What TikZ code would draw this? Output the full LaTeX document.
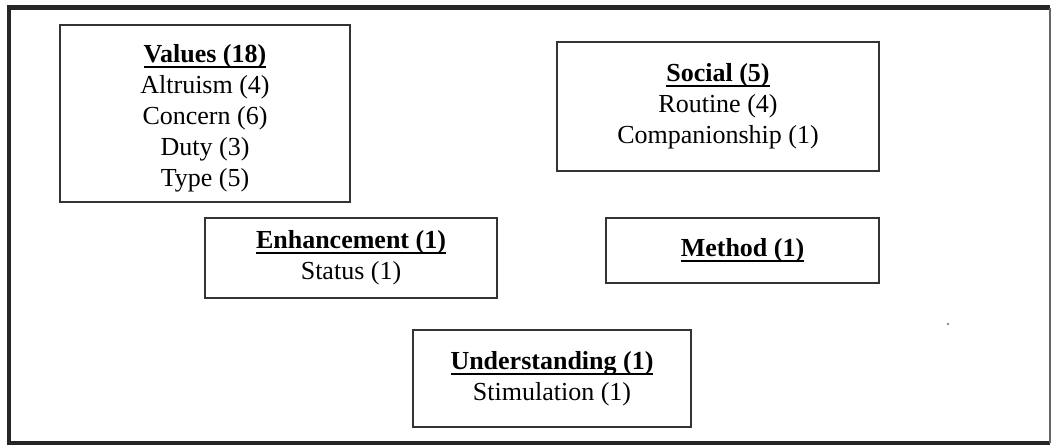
\documentclass[tikz,border=0pt]{standalone}
\usepackage{fontspec}
\setmainfont{Liberation Serif}
\newcommand{\cathead}[1]{\setbox0\hbox{\textbf{#1}}\leavevmode\rlap{\rule[-5.5pt]{\wd0}{1.8pt}}\box0}
\begin{document}
\begin{tikzpicture}[x=1pt,y=-1pt,
    catbox/.style={draw=black!80,line width=1.6pt,inner sep=0pt,align=center,
      font=\fontsize{26}{31}\selectfont}]
\useasboundingbox (0,0) rectangle (1055,447);
% outer frame
\draw[line width=4.5pt,black!85] (1050,7.5)--(9,7.5)--(9,443)--(1050,443);
\draw[line width=1.5pt,black!60] (1050,7.5)--(1050,443);
% categories
\node[catbox,minimum width=290pt,minimum height=177pt] (values) at (205,113.5)
  {\rule{0pt}{28pt}\cathead{Values (18)}\\Altruism (4)\\Concern (6)\\Duty (3)\\Type (5)};
\node[catbox,minimum width=322pt,minimum height=129pt] (social) at (718,106.5)
  {\cathead{Social (5)}\\Routine (4)\\Companionship (1)};
\node[catbox,minimum width=292pt,minimum height=80pt] (enhance) at (351,258)
  {\cathead{Enhancement (1)}\\Status (1)};
\node[catbox,minimum width=273pt,minimum height=65pt] (method) at (742.5,250.5)
  {\cathead{Method (1)}};
\node[catbox,minimum width=278pt,minimum height=97pt] (underst) at (552,378.5)
  {\cathead{Understanding (1)}\\Stimulation (1)};
\fill[black!60] (948,324) circle (1.2pt);
\end{tikzpicture}
\end{document}
